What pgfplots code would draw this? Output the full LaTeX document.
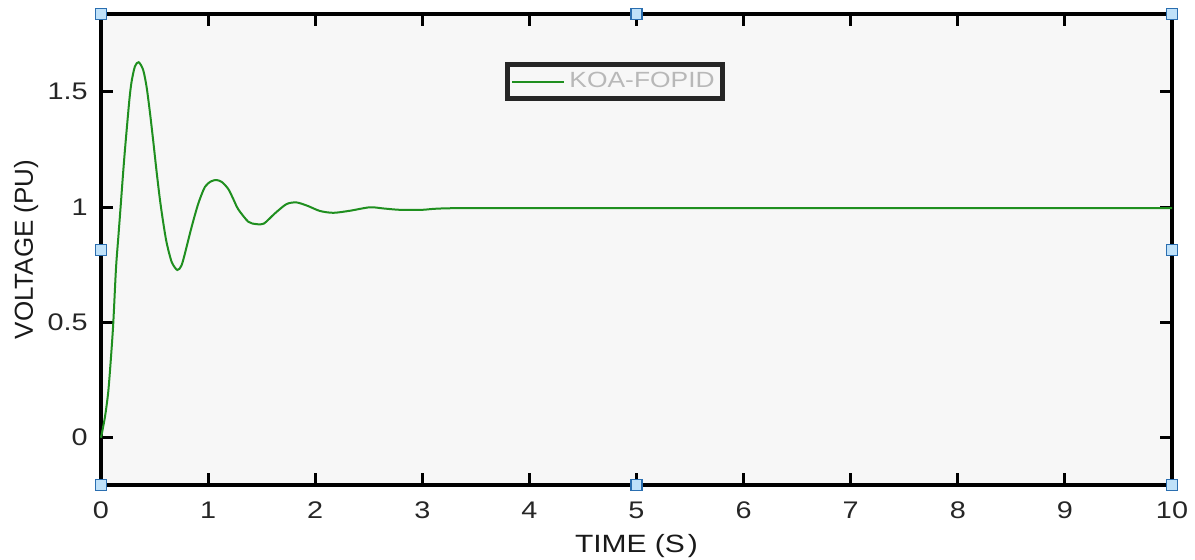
\documentclass[border=0pt]{standalone}
\usepackage{pgfplots}
\pgfplotsset{compat=1.18}
\usepackage{fontspec}
\setmainfont{Liberation Sans}[FakeStretch=1.2]
\newfontfamily\ylabfont{Liberation Sans}
\definecolor{bgc}{HTML}{F7F7F7}
\definecolor{lc}{HTML}{1F8F1F}
\definecolor{hfill}{HTML}{BFE1F9}
\definecolor{hdraw}{HTML}{2A6EB0}
\begin{document}
\begin{tikzpicture}
\useasboundingbox (-50.5pt,-37.5pt) rectangle (547pt,242.5pt);
\begin{axis}[
  at={(0,0)}, anchor=south west,
  scale only axis, width=535.5pt, height=235.5pt,
  xmin=0, xmax=10, ymin=-0.205, ymax=1.837,
  xtick={0,1,...,10}, ytick={0,0.5,1,1.5},
  tick align=inside, major tick length=6pt,
  every tick/.style={black, line width=1.5pt},
  axis line style={line width=2pt, black},
  axis background/.style={fill=bgc},
  clip=false,
  /pgf/number format/assume math mode=true,
  ticklabel style={font=\fontsize{12}{14}\selectfont, text=black!85},
  xticklabel style={anchor=center, yshift=-12.5pt},
  yticklabel style={anchor=east, inner sep=0pt, xshift=-6.5pt},
  every axis x label/.style={at={(axis description cs:0.5,0)}, anchor=base, yshift=-34pt, font=\fontsize{12.5}{15}\selectfont, text=black!90},
  every axis y label/.style={at={(axis description cs:-0.0635,0.5)}, rotate=90, anchor=base, font=\ylabfont\fontsize{13}{15}\selectfont, text=black!90},
  xlabel={TIME (S\kern1.5pt)},
  ylabel={VOLTAGE (PU)},
  legend style={at={(rel axis cs:0.3772,0.898)}, anchor=north west, draw=black!85, line width=2.5pt, fill=bgc, font=\fontsize{11}{12}\selectfont, text=black!28, inner xsep=2pt, inner ysep=2pt},
  legend image code/.code={\draw[#1] (0pt,0pt) -- (26pt,0pt);},
]
\addplot[lc, line width=1pt, smooth, tension=0.45] coordinates {
(0,0) (0.037,0.09) (0.068,0.2) (0.095,0.36) (0.115,0.5) (0.140,0.734) (0.162,0.871)
(0.183,1.0) (0.202,1.12) (0.224,1.25) (0.264,1.46) (0.286,1.545)
(0.317,1.610) (0.352,1.628) (0.394,1.594) (0.426,1.52) (0.457,1.41) (0.488,1.285)
(0.52,1.15) (0.551,1.03) (0.582,0.93) (0.613,0.845) (0.660,0.762) (0.712,0.727)
(0.75,0.745) (0.784,0.799) (0.847,0.915) (0.909,1.016) (0.971,1.088)
(1.03,1.112) (1.08,1.117) (1.13,1.108) (1.189,1.078) (1.235,1.035) (1.282,0.99) (1.376,0.936)
(1.45,0.926) (1.52,0.928) (1.625,0.973) (1.733,1.013) (1.826,1.02) (1.93,1.005)
(2.044,0.983) (2.17,0.975) (2.325,0.984) (2.51,0.999) (2.635,0.994) (2.79,0.988)
(3.0,0.988) (3.1,0.992) (3.3,0.995) (4,0.995) (6,0.995) (8,0.995) (10,0.995)
};
\addlegendentry{KOA-FOPID}
\addplot[only marks, mark=square*, mark size=2.75pt, mark options={fill=hfill, draw=hdraw, line width=0.6pt}, forget plot] coordinates {
(0,-0.205) (5,-0.205) (10,-0.205) (0,1.837) (5,1.837) (10,1.837) (0,0.814) (10,0.814)
};
\end{axis}
\end{tikzpicture}
\end{document}
